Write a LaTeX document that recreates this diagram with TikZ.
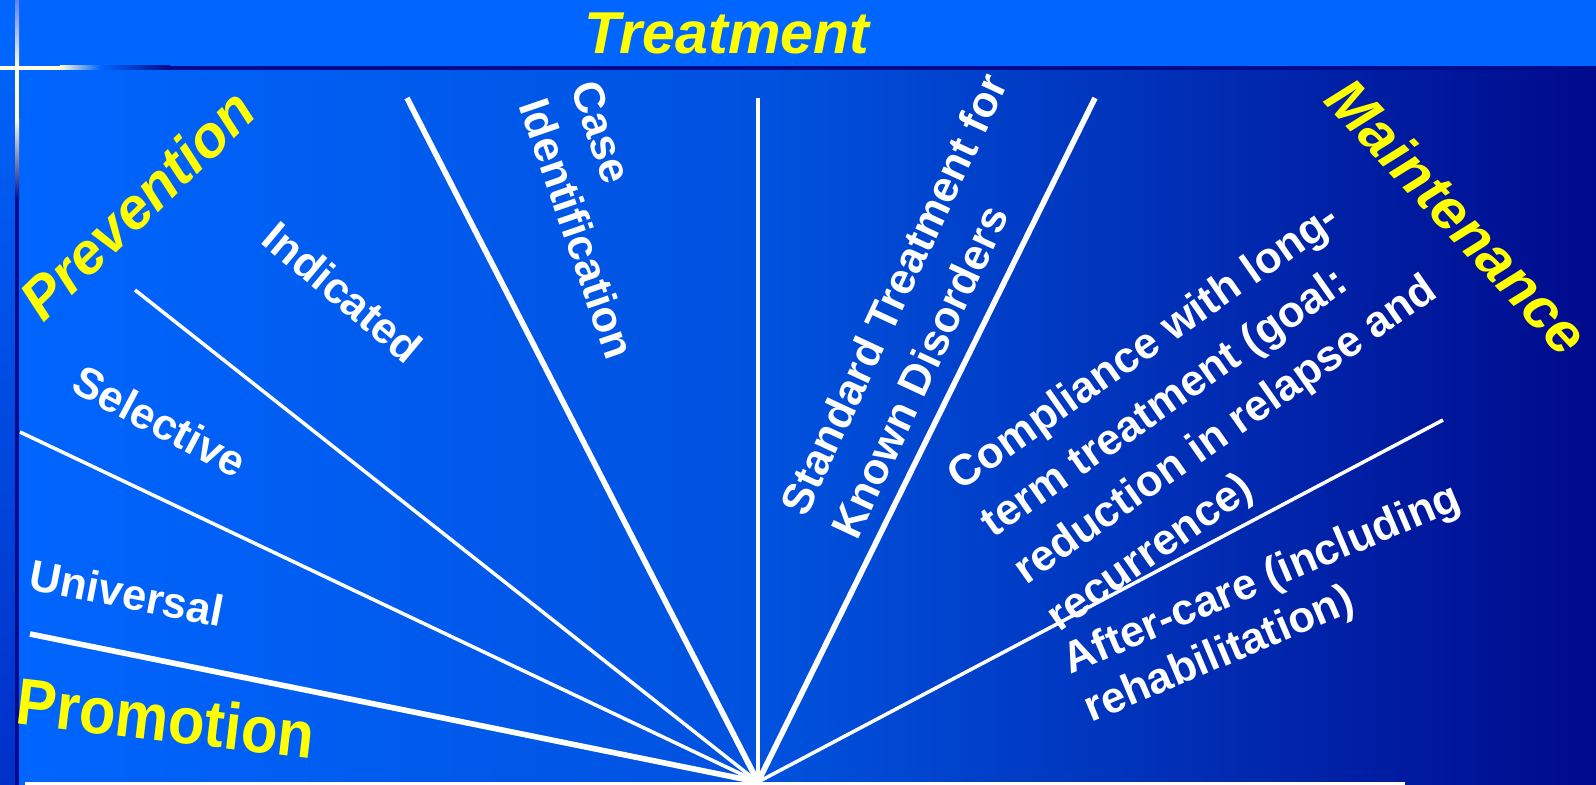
\documentclass[tikz,border=0pt]{standalone}
\usepackage{graphicx}
\usepackage{fontspec}
\setmainfont{Liberation Sans}
\definecolor{topblue}{HTML}{0066FF}
\definecolor{midblue}{HTML}{0050DC}
\definecolor{navy}{HTML}{000A8C}
\definecolor{cream}{HTML}{FFFCE0}
\definecolor{lav}{HTML}{6080FF}
\definecolor{stripTop}{HTML}{0062F8}
\definecolor{stripBot}{HTML}{0030C8}
\definecolor{ylw}{HTML}{FFFF00}
\tikzset{
  thickray/.style={draw=white, line width=1.6pt},
  thinray/.style={draw=white, line width=1.0pt},
  title/.style={text=ylw, inner sep=0pt, font=\bfseries\itshape\fontsize{16.5}{19}\selectfont},
  lbl/.style={text=white, inner sep=0pt, font=\bfseries\fontsize{12.4}{15.5}\selectfont},
}
\begin{document}
\begin{tikzpicture}[x=0.01cm, y=-0.01cm]
\useasboundingbox (0,0) rectangle (1596,785);
% background
\shade[left color=topblue, right color=navy, middle color=midblue] (0,66) rectangle (1596,785);
\fill[topblue] (0,0) rectangle (1596,66);
\shade[top color=stripTop, bottom color=stripBot] (0,70) rectangle (15,785);
% decorative cross lines
\fill[navy] (0,66) rectangle (1596,70);
\fill[cream] (0,66) rectangle (60,70);
\shade[left color=cream, right color=topblue] (60,66) rectangle (100,70);
\shade[left color=topblue, right color=navy] (100,66) rectangle (170,70);
\shade[top color=lav, bottom color=cream] (15,0) rectangle (19,66);
\fill[cream] (15,66) rectangle (19,120);
\shade[top color=cream, bottom color=navy] (15,120) rectangle (19,200);
\fill[navy] (15,200) rectangle (19,785);
% bottom line
\fill[white] (25,782) rectangle (1405,785);

% rays
\coordinate (c) at (758,782);
\coordinate (e1) at (30,634);
\coordinate (e2) at (20,432);
\coordinate (e3) at (135,290);
\coordinate (e4) at (407,98);
\coordinate (e5) at (758,98);
\coordinate (e6) at (1095,98);
\coordinate (e7) at (1443,420);
\draw[thickray] (e1) -- (c);
\draw[thinray] (e2) -- (c);
\draw[thinray] (e3) -- (c);
\draw[thickray] (e4) -- (c);
\draw[thinray] (e5) -- (c);
\draw[thickray] (e6) -- (c);
\draw[thinray] (e7) -- (c);

% titles
\node[title, font=\bfseries\itshape\fontsize{16.8}{19}\selectfont] (treat) at (727,33) {Treatment};
\node[title, rotate=44] (prev) at (137,204) {Prevention};
\node[title, rotate=-47] (maint) at (1458,216) {Maintenance};
\node[text=ylw, inner sep=0pt, font=\bfseries\fontsize{17}{20}\selectfont, rotate=-6.7] (promo) at (166,718) {\scalebox{1}[1.1]{Promotion}};

% labels
\node[lbl, rotate=-11] (univ) at (127,593) {Universal};
\node[lbl, rotate=-28] (sel) at (160,421) {Selective};
\node[lbl, rotate=-40] (ind) at (343,292) {Indicated};
\node[lbl, rotate=-71, align=left] (case) at (603,220) {Case\\Identification};
\node[lbl, rotate=65, align=left, font=\bfseries\fontsize{12.4}{16}\selectfont] (std) at (919,306) {Standard Treatment for\\Known Disorders};
\node[lbl, rotate=35, align=left, font=\bfseries\fontsize{12.4}{16.3}\selectfont] (comp) at (1210,408) {Compliance with long-\\term treatment (goal:\\reduction in relapse and\\recurrence)};
\node[lbl, rotate=23, align=left, font=\bfseries\fontsize{12.4}{15}\selectfont] (after) at (1273,605) {After-care (including\\rehabilitation)};
\end{tikzpicture}
\end{document}
